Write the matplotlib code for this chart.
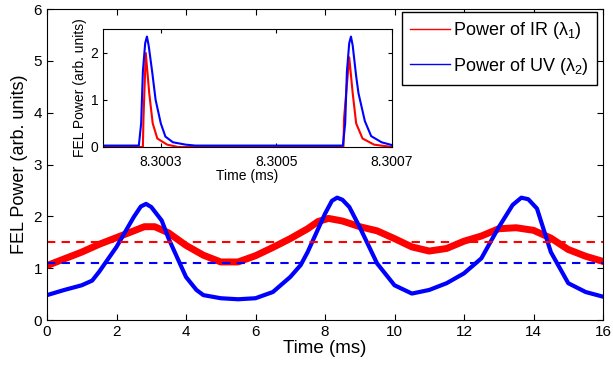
import numpy as np
import matplotlib
matplotlib.use("Agg")
import matplotlib.pyplot as plt
from matplotlib.lines import Line2D

plt.rcParams["font.family"] = ["Liberation Sans", "DejaVu Sans"]
plt.rcParams["mathtext.fontset"] = "custom"
plt.rcParams["mathtext.rm"] = "Liberation Sans"
plt.rcParams["mathtext.it"] = "Liberation Sans"

# main trace, time in ms
t_ir = [0, 0.5, 1, 1.5, 2, 2.5, 2.8, 3.1, 3.5, 4, 4.5, 5, 5.5, 6, 6.5, 7, 7.5,
        7.8, 8.1, 8.5, 9, 9.5, 10, 10.5, 11, 11.5, 12, 12.5, 13, 13.5, 14,
        14.5, 15, 15.5, 16]
p_ir = [1.05, 1.18, 1.31, 1.46, 1.59, 1.72, 1.80, 1.80, 1.68, 1.44, 1.25, 1.12,
        1.12, 1.24, 1.40, 1.57, 1.76, 1.90, 1.96, 1.91, 1.80, 1.72, 1.57, 1.41,
        1.33, 1.38, 1.52, 1.62, 1.76, 1.78, 1.73, 1.58, 1.36, 1.23, 1.13]

t_uv = [0, 0.5, 1, 1.3, 1.5, 2, 2.5, 2.7, 2.85, 3.0, 3.3, 3.5, 4, 4.3, 4.5, 5,
        5.5, 6, 6.5, 7, 7.3, 7.5, 8, 8.2, 8.35, 8.5, 8.7, 9, 9.5, 10, 10.5, 11,
        11.5, 12, 12.5, 13, 13.4, 13.65, 13.85, 14.1, 14.5, 15, 15.5, 16]
p_uv = [0.48, 0.58, 0.67, 0.76, 0.93, 1.41, 1.99, 2.19, 2.24, 2.18, 1.92, 1.57,
        0.83, 0.58, 0.48, 0.42, 0.40, 0.42, 0.54, 0.83, 1.06, 1.31, 2.05, 2.30,
        2.36, 2.32, 2.18, 1.79, 1.09, 0.67, 0.51, 0.58, 0.71, 0.90, 1.19, 1.79,
        2.22, 2.36, 2.33, 2.15, 1.31, 0.71, 0.54, 0.45]

mean_ir = 1.5
mean_uv = 1.1

# inset: single pulses, time in ms
ti_uv = [8.300200, 8.300262, 8.300266, 8.300269, 8.300273, 8.300276, 8.300279,
         8.300285, 8.300291, 8.300300, 8.300308, 8.300321, 8.300343, 8.300360,
         8.300615, 8.300619, 8.300622, 8.300626, 8.300629, 8.300632, 8.300638,
         8.300642, 8.300653, 8.300664, 8.300682, 8.300700]
pi_uv = [0.03, 0.03, 0.50, 1.60, 2.20, 2.34, 2.15, 1.60, 1.00, 0.50, 0.22, 0.10,
         0.05, 0.03, 0.03, 0.50, 1.60, 2.20, 2.34, 2.15, 1.50, 1.14, 0.55, 0.23,
         0.10, 0.04]

ti_ir = [8.300200, 8.300269, 8.300270, 8.300274, 8.300280, 8.300286, 8.300294,
         8.300311, 8.300330, 8.300616, 8.300617, 8.300626, 8.300632, 8.300638,
         8.300649, 8.300669, 8.300700]
pi_ir = [0.0, 0.0, 0.6, 1.99, 1.14, 0.50, 0.18, 0.05, 0.0, 0.0, 0.6, 1.90, 1.14,
         0.50, 0.18, 0.05, 0.0]

fig = plt.figure(figsize=(6.13, 3.71), dpi=100)
ax = fig.add_axes([47 / 613, 51 / 371, 556 / 613, 311 / 371])
ax.plot(t_ir, p_ir, color="red", lw=5, solid_joinstyle="round")
ax.plot(t_uv, p_uv, color="blue", lw=3, solid_joinstyle="round")
ax.axhline(mean_ir, color="red", ls=(0, (4, 3)), lw=1.5)
ax.axhline(mean_uv, color="blue", ls=(0, (4, 3)), lw=1.5)
ax.set_xlim(0, 16)
ax.set_ylim(0, 6)
ax.set_xticks(np.arange(0, 17, 2))
ax.set_yticks(np.arange(0, 7, 1))
ax.tick_params(direction="in", top=True, right=True, labelsize=11, length=4)
ax.set_xlabel("Time (ms)", fontsize=13.5, labelpad=1)
ax.set_ylabel("FEL Power (arb. units)", fontsize=13, labelpad=4)

ins = fig.add_axes([103 / 613, 224 / 371, 289 / 613, 118 / 371])
ins.plot(ti_ir, pi_ir, color="red", lw=1.5)
ins.plot(ti_uv, pi_uv, color="blue", lw=1.5)
ins.set_xlim(8.3002, 8.3007)
ins.set_ylim(0, 2.5)
ins.set_xticks([8.3003, 8.3005, 8.3007])
ins.set_xticklabels(["8.3003", "8.3005", "8.3007"])
ins.set_yticks([0, 1, 2])
ins.tick_params(direction="in", top=True, right=True, labelsize=10, length=3)
ins.tick_params(axis="x", pad=6)
ins.set_xlabel("Time (ms)", fontsize=10, labelpad=0)
ins.set_ylabel("FEL Power (arb. units)", fontsize=10, labelpad=2)

handles = [Line2D([], [], color="red", lw=1), Line2D([], [], color="blue", lw=1)]
fig.legend(handles, [r"Power of IR ($\lambda_1$)", r"Power of UV ($\lambda_2$)"],
           loc="upper right", bbox_to_anchor=(597 / 613, 359 / 371), fontsize=13,
           frameon=True, fancybox=False, edgecolor="black", framealpha=1,
           handlelength=2.2, handletextpad=0.2, borderpad=0.45, labelspacing=0.8,
           borderaxespad=0)

fig.savefig("out.png", dpi=100)
